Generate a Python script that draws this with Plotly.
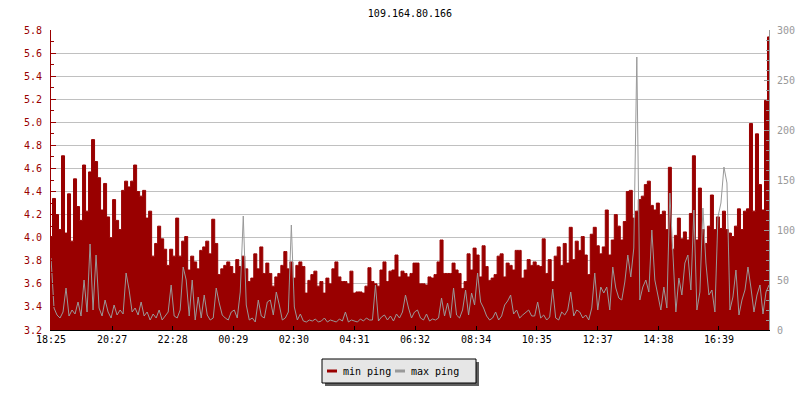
import pandas as pd
import plotly.graph_objects as go

chart_title = "109.164.80.166"
start_time = "2024-01-01 18:25"
step_minutes = 6
tick_labels = ["18:25", "20:27", "22:28", "00:29", "02:30", "04:31",
               "06:32", "08:34", "10:35", "12:37", "14:38", "16:39"]
series_names = ["min ping", "max ping"]

# min ping (left axis)
min_ping = [
    4.01, 4.34, 4.20, 4.07, 4.71, 4.04, 4.38, 3.97, 4.51, 4.27,
    4.15, 4.63, 4.23, 4.57, 4.85, 4.66, 4.52, 4.24, 4.47, 4.18,
    4.00, 4.33, 4.15, 4.07, 4.41, 4.49, 4.44, 4.49, 4.63, 4.40,
    4.36, 4.41, 4.17, 4.23, 3.84, 3.95, 4.10, 3.99, 3.90, 3.76,
    3.90,
    3.84, 4.17, 3.84, 3.97, 4.01, 3.72, 3.84, 3.79, 3.73, 3.89,
    3.92, 3.97, 3.86, 4.16, 3.95, 3.68, 3.73, 3.76, 3.79, 3.75,
    3.69, 3.81, 3.75, 3.84, 3.73, 3.62, 3.65, 3.86, 3.73, 3.92,
    3.69, 3.78, 3.69, 3.58, 3.66, 3.69, 3.76, 3.88, 3.73, 3.79,
    3.65, 3.76, 3.79, 3.75, 3.52, 3.63, 3.68, 3.71, 3.58, 3.62,
    3.52, 3.65, 3.60, 3.73, 3.79, 3.66, 3.62, 3.62, 3.60, 3.71,
    3.52, 3.53, 3.53, 3.52, 3.58, 3.74, 3.62, 3.60, 3.58, 3.72,
    3.79, 3.62, 3.71, 3.72, 3.85, 3.66, 3.71, 3.69, 3.66, 3.69,
    3.78, 3.78, 3.60, 3.60, 3.59, 3.66, 3.65, 3.68, 3.79, 3.98,
    3.69, 3.69, 3.69, 3.78, 3.72, 3.69, 3.56, 3.62, 3.86, 3.72,
    3.91, 3.85, 3.66, 3.93, 3.75, 3.63, 3.65, 3.68, 3.84, 3.86,
    3.66, 3.78, 3.76, 3.72, 3.89, 3.89, 3.65, 3.72, 3.81, 3.76,
    3.79, 3.76, 3.75, 3.99, 3.69, 3.81, 3.62, 3.84, 3.92, 3.76,
    3.95, 3.78, 4.09, 3.81, 3.97, 3.89, 4.01, 3.85, 3.68, 4.03,
    4.09, 3.93, 3.86, 3.92, 4.24, 3.85, 3.98, 4.20, 4.10, 3.98,
    4.14, 4.40, 4.41, 4.17, 4.23, 4.33, 4.36, 4.46, 4.49, 4.28,
    4.24, 4.30, 4.20, 4.23, 4.07, 4.61, 3.90, 4.02, 4.17, 3.99,
    4.05, 3.98, 4.21, 4.71, 3.98, 4.43, 4.07, 3.95, 4.10, 4.37,
    4.07, 4.18, 4.08, 4.23, 4.07, 4.04, 4.01, 4.10, 4.25, 4.07,
    4.23, 4.25, 4.99, 4.23, 4.90, 4.46, 4.24, 5.19, 5.74,
]

# max ping (right axis)
max_ping = [
    72, 22, 15, 12, 18, 42, 14, 20, 16, 28,
    14, 50, 18, 86, 20, 75, 22, 14, 30, 18,
    12, 25, 15, 20, 16, 57, 40, 18, 22, 15,
    28, 14, 18, 10, 16, 12, 20, 10, 14, 18,
    45,
    14, 12, 20, 63, 50, 14, 50, 10, 33, 12,
    35, 15, 10, 12, 42, 27, 15, 12, 10, 18,
    20, 12, 38, 114, 25, 10, 12, 8, 30, 14,
    12, 28, 30, 15, 38, 25, 10, 12, 18, 105,
    23, 10, 16, 9, 8, 10, 9, 11, 8, 9,
    12, 8, 10, 9, 8, 11, 9, 18, 8, 10,
    9, 8, 11, 9, 12, 10, 10, 45, 9, 13,
    15, 10, 14, 9, 16, 12, 18, 35, 22, 12,
    18, 20, 12, 10, 16, 9, 11, 10, 12, 32,
    14, 27, 12, 42, 15, 12, 20, 40, 15, 37,
    25, 57, 28, 22, 14, 10, 12, 18, 10, 14,
    25, 29, 35, 16, 20, 12, 15, 18, 20, 14,
    14, 28, 12, 15, 10, 13, 41, 12, 10, 18,
    15, 20, 38, 14, 20, 18, 12, 15, 10, 22,
    57, 20, 43, 37, 43, 20, 63, 42, 32, 30,
    48, 75, 53, 82, 273, 30, 43, 50, 38, 100,
    50, 35, 20, 43, 22, 137, 83, 18, 52, 35,
    67, 75, 40, 120, 20, 38, 122, 67, 35, 40,
    18, 113, 127, 163, 147, 20, 33, 60, 15, 30,
    40, 63, 42, 18, 35, 45, 16, 38, 45,
]

times = pd.date_range(start_time, periods=len(min_ping), freq=f"{step_minutes}min")
t0 = pd.Timestamp(start_time)
tick_vals = []
for lab in tick_labels:
    t = pd.Timestamp(t0.strftime("%Y-%m-%d") + " " + lab)
    if t < t0:
        t += pd.Timedelta(days=1)
    tick_vals.append(t)

RED = "#990000"
GRAY = "#999999"
FONT = "DejaVu Sans Mono"

fig = go.Figure()
fig.add_trace(go.Scatter(
    x=times, y=min_ping, name=series_names[0], mode="lines",
    line=dict(color=RED, width=1, shape="hvh"), fill="tozeroy", fillcolor=RED, yaxis="y",
))
fig.add_trace(go.Scatter(
    x=times, y=max_ping, name=series_names[1], mode="lines",
    line=dict(color=GRAY, width=1), yaxis="y2",
))

# plot area in pixels: x 51..769, y 30..330
L, R, T, B = 51, 769, 30, 330
def px(x):
    return (x - L) / (R - L)
def py(y):
    return (B - y) / (B - T)

shapes = [
    dict(type="rect", xref="paper", yref="paper", x0=px(325), x1=px(479), y0=py(386), y1=py(362),
         fillcolor="#5f5f5f", line=dict(width=0)),
    dict(type="rect", xref="paper", yref="paper", x0=px(322), x1=px(476), y0=py(383), y1=py(359),
         fillcolor="#e6e6e6", line=dict(color="black", width=1)),
    dict(type="line", xref="paper", yref="paper", x0=px(327), x1=px(337), y0=py(371), y1=py(371),
         line=dict(color=RED, width=3)),
    dict(type="line", xref="paper", yref="paper", x0=px(395), x1=px(405), y0=py(371), y1=py(371),
         line=dict(color=GRAY, width=3)),
]
annotations = [
    dict(text=series_names[0], xref="paper", yref="paper", x=px(341), y=py(371),
         xanchor="left", yanchor="middle", showarrow=False, font=dict(family=FONT, size=10, color="black")),
    dict(text=series_names[1], xref="paper", yref="paper", x=px(409), y=py(371),
         xanchor="left", yanchor="middle", showarrow=False, font=dict(family=FONT, size=10, color="black")),
]

fig.update_layout(
    width=800, height=400,
    margin=dict(l=L, r=800 - R, t=T, b=400 - B, autoexpand=False),
    plot_bgcolor="white", paper_bgcolor="white",
    showlegend=False,
    font=dict(family=FONT, size=10, color="black"),
    title=dict(text=chart_title, x=0.5, xanchor="center", xref="paper",
               y=1 - 13 / 400, yanchor="middle", yref="container",
               font=dict(family=FONT, size=10, color="black")),
    xaxis=dict(range=[times[0], times[-1]], tickvals=tick_vals, ticktext=tick_labels,
               ticks="inside", ticklen=4, tickcolor="black", showline=True, linecolor="black",
               linewidth=1, showgrid=False, zeroline=False, tickfont=dict(color="black")),
    yaxis=dict(range=[3.2, 5.8], tick0=3.2, dtick=0.2, tickformat=".1f",
               ticks="inside", ticklen=5, tickcolor=RED, showline=True, linecolor=RED,
               gridcolor="#c0c0c0", gridwidth=1, zeroline=False, tickfont=dict(color=RED),
               ticklabelstandoff=6,
               minor=dict(dtick=0.1, tick0=3.2, ticks="inside", ticklen=3, tickcolor=RED, showgrid=False)),
    yaxis2=dict(range=[0, 300], tick0=0, dtick=50, overlaying="y", side="right",
                ticks="inside", ticklen=5, tickcolor=GRAY, showline=True, linecolor=GRAY,
                showgrid=False, zeroline=False, tickfont=dict(color=GRAY),
                ticklabelstandoff=5,
                minor=dict(dtick=10, tick0=0, ticks="inside", ticklen=3, tickcolor=GRAY, showgrid=False)),
    shapes=shapes,
    annotations=annotations,
)

fig.write_html(
    "out.html",
    config={"displayModeBar": False},
    post_script="document.documentElement.style.margin='0';document.body.style.margin='0';document.body.style.overflow='hidden';",
)
